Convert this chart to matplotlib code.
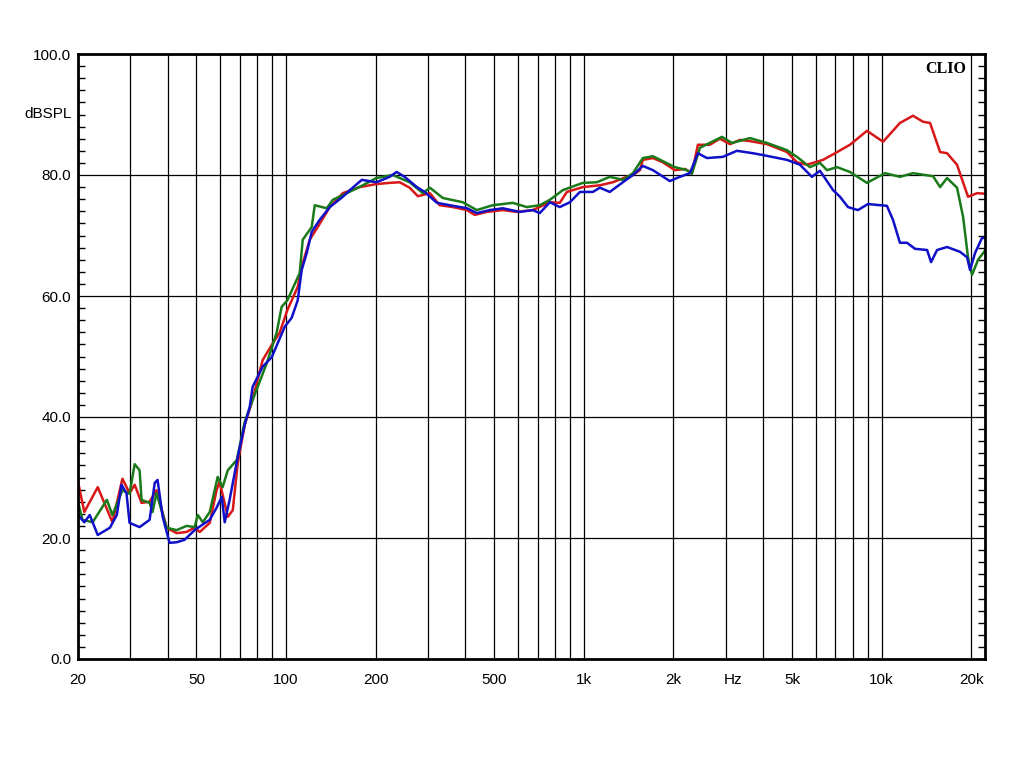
import numpy as np
import matplotlib
matplotlib.use("Agg")
from matplotlib import pyplot as plt
from matplotlib.ticker import FixedLocator, MultipleLocator, NullFormatter

plt.rcParams['font.family'] = ['Liberation Sans', 'DejaVu Sans']

# red trace
red_f = [20, 21.0, 23.3, 26.1, 28.2, 29.8, 31.0, 32.7, 34.8, 36.7, 39.7, 42.9, 46.3, 49.3, 51.3,
         55.4, 58.4, 59.8, 63.7, 66.2, 68.8, 72.6, 76.6, 83.4, 90.2, 95.1, 101, 109.4, 112.8,
         120, 127.7, 140.2, 155, 176.8, 201, 222.8, 240.8, 260, 277, 304, 328, 363, 405, 430,
         472, 534, 595, 674, 769, 830, 877, 992, 1132, 1251, 1394, 1462, 1543, 1578, 1706, 1842,
         2022, 2185, 2306, 2416, 2650, 2864, 3097, 3343, 3613, 4120, 4810, 5197, 5613, 5883,
         6356, 6980, 7831, 8929, 10118, 11525, 12750, 13776, 14550, 15720, 16590, 17920,
         19510, 20940, 22250]
red_db = [29.3, 24.3, 28.4, 22.6, 29.8, 27.4, 28.8, 25.8, 26.0, 27.9, 21.7, 20.8, 21.0, 21.7, 21.0,
          22.5, 27.9, 29.3, 23.5, 24.6, 32.4, 38.7, 42.3, 49.4, 52.2, 53.9, 57.7, 61.5, 64.8,
          69.3, 71.4, 74.7, 77.0, 78.0, 78.5, 78.7, 78.8, 77.9, 76.5, 77.0, 75.0, 74.7, 74.2, 73.4,
          73.9, 74.2, 73.9, 74.2, 75.5, 75.4, 77.2, 78.0, 78.3, 78.8, 79.7, 80.0, 80.8, 82.5, 82.8, 82.1,
          80.8, 81.0, 80.3, 85.0, 85.0, 86.0, 85.1, 85.8, 85.6, 85.1, 83.8, 82.1, 81.7, 82.0,
          82.5, 83.6, 85.0, 87.3, 85.5, 88.6, 89.8, 88.8, 88.6, 83.8, 83.6, 81.7,
          76.4, 77.0, 76.9]

# green trace
green_f = [20, 20.7, 22.4, 25.0, 26.1, 28.2, 29.8, 31.0, 32.2, 32.7, 34.8, 35.6, 36.7, 39.7, 42.9,
           46.3, 49.3, 50.5, 52.5, 55.4, 58.9, 61.2, 63.7, 68.3, 72.6, 77.2, 86.1, 92.9, 96.6,
           101, 111.1, 113.7, 121.9, 124.8, 136.9, 143.5, 160, 180.9, 201, 228, 260, 288, 304,
           336, 392, 437, 494, 577, 643, 711, 769, 850, 992, 1106, 1222, 1352, 1462, 1578, 1706,
           2022, 2218, 2306, 2454, 2909, 3143, 3613, 4120, 4810, 5197, 5745, 6209, 6556, 7087,
           7831, 8929, 10265, 11525, 12750, 14890, 15720, 16590, 17920, 18780, 19510, 20130,
           21090, 22250]
green_db = [26.0, 23.0, 22.6, 26.3, 23.8, 27.9, 27.3, 32.2, 31.2, 26.3, 25.8, 24.3, 27.4, 21.7, 21.3,
            22.0, 21.8, 23.8, 22.6, 24.3, 30.1, 28.4, 31.2, 32.9, 39.2, 42.8, 48.9, 53.9, 58.2,
            59.3, 63.8, 69.3, 71.4, 75.0, 74.5, 75.9, 77.0, 78.3, 79.5, 80.0, 78.8, 77.0, 77.9,
            76.2, 75.5, 74.2, 75.0, 75.4, 74.7, 75.0, 75.9, 77.5, 78.7, 78.8, 79.7, 79.2, 80.3, 82.8, 83.1,
            81.3, 80.8, 80.2, 84.5, 86.3, 85.3, 86.1, 85.3, 84.1, 83.0, 81.3, 82.0, 80.8, 81.3,
            80.5, 78.7, 80.3, 79.7, 80.3, 79.8, 78.0, 79.5, 77.9, 73.1, 66.4, 63.5,
            66.0, 67.5]

# blue trace
blue_f = [20, 21.0, 21.9, 23.3, 25.6, 27.0, 28.0, 29.1, 29.8, 32.2, 34.8, 36.2, 37.0, 38.5, 40.6,
          42.9, 45.6, 47.4, 49.3, 52.0, 55.4, 58.4, 60.8, 62.2, 64.6, 68.8, 72.6, 75.5, 77.2, 83.4,
          89.5, 98.9, 104.4, 109.4, 112.8, 117.3, 121.9, 129.7, 140.2, 155, 163.7, 179.6, 201,
          222.8, 235, 250, 275, 292, 321, 354.5, 405, 437, 483, 534, 609, 674, 711, 769, 830, 898,
          970, 1072, 1132, 1222, 1352, 1462, 1578, 1706, 1944, 2102, 2271, 2416, 2590, 2931, 3266,
          3696, 3993, 4810, 5318, 5834, 6209, 6871, 7250, 7711, 8329, 8998, 10422, 10920, 11525,
          12170, 12950, 14220, 14660, 15360, 16590, 18340, 19370, 19820, 20600, 21740, 22250]
blue_db = [23.8, 22.6, 23.8, 20.5, 21.7, 23.8, 28.8, 27.4, 22.5, 21.8, 23.0, 29.1, 29.6, 23.5, 19.2,
           19.3, 19.7, 20.5, 21.3, 22.1, 23.0, 25.0, 26.8, 22.6, 26.3, 33.4, 38.7, 41.7, 45.0, 48.3,
           49.9, 54.9, 56.4, 59.3, 64.3, 67.1, 70.6, 72.6, 74.7, 76.4, 77.5, 79.2, 78.8,
           79.7, 80.5, 79.7, 78.0, 77.2, 75.4, 75.0, 74.5, 73.7, 74.2, 74.5, 73.9, 74.2, 73.7, 75.5, 74.7, 75.5,
           77.2, 77.2, 77.9, 77.2, 78.8, 80.0, 81.5, 80.8, 79.0, 79.7, 80.3, 83.6, 82.8, 83.0, 84.0,
           83.6, 83.3, 82.5, 81.7, 79.7, 80.7, 77.5, 76.4, 74.7, 74.2, 75.2, 74.9, 72.6, 68.8,
           68.8, 67.8, 67.6, 65.6, 67.6, 68.1, 67.3, 66.4, 64.3, 67.1, 69.6, 69.6]

x_ticks = [20, 50, 100, 200, 500, 1000, 2000, 3162, 5000, 10000, 20000]
x_labels = ['20', '50', '100', '200', '500', '1k', '2k', 'Hz', '5k', '10k', '20k']
y_ticks = [0, 20, 40, 60, 80, 100]
y_labels = ['0.0', '20.0', '40.0', '60.0', '80.0', '100.0']

fig = plt.figure(figsize=(10.24, 7.68), dpi=100)
ax = fig.add_axes([78 / 1024, 1 - 659 / 768, 907 / 1024, 605 / 768])

ax.plot(red_f, red_db, color='#d81818', lw=1.8)
ax.plot(green_f, green_db, color='#1a7a1a', lw=1.8)
ax.plot(blue_f, blue_db, color='#1010c8', lw=1.8)

ax.set_xscale('log')
ax.set_xlim(20, 22250)
ax.set_ylim(0, 100)

# x: labels on majors, grid on every 1..9 decade step
ax.xaxis.set_major_locator(FixedLocator(x_ticks))
ax.set_xticklabels(x_labels)
grid_x = [m * 10 ** d for d in range(1, 5) for m in range(1, 10) if 20 <= m * 10 ** d <= 20000]
ax.xaxis.set_minor_locator(FixedLocator(grid_x))
ax.xaxis.set_minor_formatter(NullFormatter())
ax.xaxis.remove_overlapping_locs = False
ax.tick_params(axis='x', which='both', length=0, pad=10, labelsize=11)
ax.grid(True, axis='x', which='minor', color='black', lw=0.9)

ax.set_yticks(y_ticks)
ax.set_yticklabels(y_labels)
ax.yaxis.set_minor_locator(MultipleLocator(2))
ax.tick_params(axis='y', which='major', length=0, pad=5, labelsize=11)
ax.tick_params(axis='y', which='minor', direction='in', length=5, width=1,
               left=True, right=True)
ax.grid(True, axis='y', which='major', color='black', lw=0.9)

for s in ax.spines.values():
    s.set_linewidth(2)

ax.text(-0.007, 90, 'dBSPL', transform=ax.get_yaxis_transform(), ha='right', va='center',
        fontsize=11)
ax.text(0.979, 0.988, 'CLIO', transform=ax.transAxes, ha='right', va='top',
        fontsize=11.5, fontweight='bold', family=['Liberation Serif', 'DejaVu Serif'])

fig.savefig('out.png', dpi=100)
